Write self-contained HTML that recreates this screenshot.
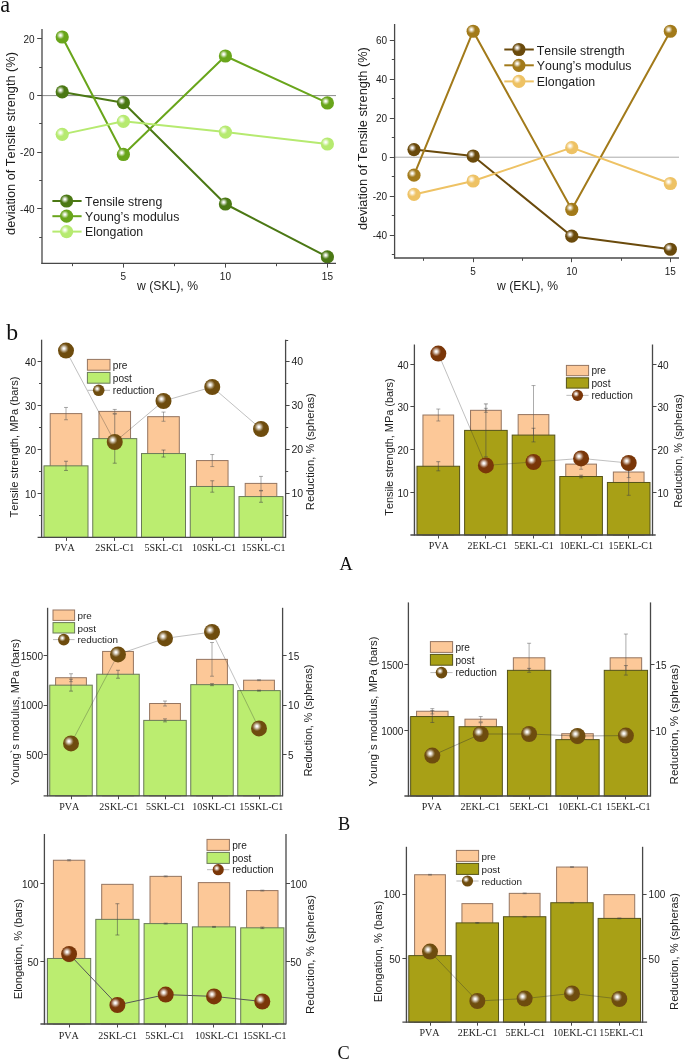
<!DOCTYPE html>
<html><head><meta charset="utf-8"><style>
html,body{margin:0;padding:0;background:#fff;}
body{width:685px;height:1060px;overflow:hidden;}
svg{display:block;will-change:transform;}
text{font-kerning:none;}
</style></head><body><svg width="685" height="1060" viewBox="0 0 685 1060"><defs><radialGradient id="hl" cx="0.5" cy="0.5" r="0.5"><stop offset="0" stop-color="#fff" stop-opacity="1"/><stop offset="0.15" stop-color="#fff" stop-opacity="0.96"/><stop offset="0.45" stop-color="#fff" stop-opacity="0.62"/><stop offset="0.75" stop-color="#fff" stop-opacity="0.22"/><stop offset="1" stop-color="#fff" stop-opacity="0"/></radialGradient><radialGradient id="g0" cx="0.5" cy="0.5" r="0.5" fx="0.5" fy="0.5"><stop offset="0" stop-color="#4b7814"/><stop offset="0.8" stop-color="#4b7814"/><stop offset="1" stop-color="#4b7814"/></radialGradient><radialGradient id="g1" cx="0.5" cy="0.5" r="0.5" fx="0.5" fy="0.5"><stop offset="0" stop-color="#69a51b"/><stop offset="0.8" stop-color="#69a51b"/><stop offset="1" stop-color="#69a51b"/></radialGradient><radialGradient id="g2" cx="0.5" cy="0.5" r="0.5" fx="0.5" fy="0.5"><stop offset="0" stop-color="#b6ea70"/><stop offset="0.8" stop-color="#b6ea70"/><stop offset="1" stop-color="#b6ea70"/></radialGradient><radialGradient id="g3" cx="0.5" cy="0.5" r="0.5" fx="0.5" fy="0.5"><stop offset="0" stop-color="#6a4a0c"/><stop offset="0.8" stop-color="#6a4a0c"/><stop offset="1" stop-color="#6a4a0c"/></radialGradient><radialGradient id="g4" cx="0.5" cy="0.5" r="0.5" fx="0.5" fy="0.5"><stop offset="0" stop-color="#a27a1a"/><stop offset="0.8" stop-color="#a27a1a"/><stop offset="1" stop-color="#a27a1a"/></radialGradient><radialGradient id="g5" cx="0.5" cy="0.5" r="0.5" fx="0.5" fy="0.5"><stop offset="0" stop-color="#eec264"/><stop offset="0.8" stop-color="#eec264"/><stop offset="1" stop-color="#eec264"/></radialGradient><radialGradient id="g6" cx="0.5" cy="0.5" r="0.5" fx="0.5" fy="0.5"><stop offset="0" stop-color="#6e4c0e"/><stop offset="0.8" stop-color="#6e4c0e"/><stop offset="1" stop-color="#6e4c0e"/></radialGradient><radialGradient id="g7" cx="0.5" cy="0.5" r="0.5" fx="0.5" fy="0.5"><stop offset="0" stop-color="#7a3608"/><stop offset="0.8" stop-color="#7a3608"/><stop offset="1" stop-color="#7a3608"/></radialGradient></defs><text x="0.30" y="12.00" font-family='"Liberation Serif", serif' font-size="22.2" fill="#111" text-anchor="start" >a</text><text x="6.20" y="339.70" font-family='"Liberation Serif", serif' font-size="23.8" fill="#111" text-anchor="start" >b</text><text x="339.50" y="569.70" font-family='"Liberation Serif", serif' font-size="18.3" fill="#111" text-anchor="start" >A</text><text x="338.00" y="829.90" font-family='"Liberation Serif", serif' font-size="18.3" fill="#111" text-anchor="start" >B</text><text x="337.60" y="1059.10" font-family='"Liberation Serif", serif' font-size="18.3" fill="#111" text-anchor="start" >C</text><line x1="42.00" y1="95.60" x2="336.00" y2="95.60" stroke="#8a8a8a" stroke-width="1.0" /><polyline points="62.20,91.92 123.40,102.67 225.40,203.99 327.40,256.91" fill="none" stroke="#4b7814" stroke-width="2.0" stroke-linejoin="round" /><polyline points="62.20,37.02 123.40,154.46 225.40,55.98 327.40,102.96" fill="none" stroke="#69a51b" stroke-width="2.0" stroke-linejoin="round" /><polyline points="62.20,134.37 123.40,121.35 225.40,132.11 327.40,143.99" fill="none" stroke="#b6ea70" stroke-width="2.0" stroke-linejoin="round" /><circle cx="62.20" cy="91.92" r="6.60" fill="url(#g0)"/><circle cx="60.48" cy="90.20" r="4.09" fill="url(#hl)"/><circle cx="123.40" cy="102.67" r="6.60" fill="url(#g0)"/><circle cx="121.68" cy="100.96" r="4.09" fill="url(#hl)"/><circle cx="225.40" cy="203.99" r="6.60" fill="url(#g0)"/><circle cx="223.68" cy="202.27" r="4.09" fill="url(#hl)"/><circle cx="327.40" cy="256.91" r="6.60" fill="url(#g0)"/><circle cx="325.68" cy="255.19" r="4.09" fill="url(#hl)"/><circle cx="62.20" cy="37.02" r="6.60" fill="url(#g1)"/><circle cx="60.48" cy="35.30" r="4.09" fill="url(#hl)"/><circle cx="123.40" cy="154.46" r="6.60" fill="url(#g1)"/><circle cx="121.68" cy="152.75" r="4.09" fill="url(#hl)"/><circle cx="225.40" cy="55.98" r="6.60" fill="url(#g1)"/><circle cx="223.68" cy="54.26" r="4.09" fill="url(#hl)"/><circle cx="327.40" cy="102.96" r="6.60" fill="url(#g1)"/><circle cx="325.68" cy="101.24" r="4.09" fill="url(#hl)"/><circle cx="62.20" cy="134.37" r="6.60" fill="url(#g2)"/><circle cx="60.48" cy="132.65" r="4.09" fill="url(#hl)"/><circle cx="123.40" cy="121.35" r="6.60" fill="url(#g2)"/><circle cx="121.68" cy="119.64" r="4.09" fill="url(#hl)"/><circle cx="225.40" cy="132.11" r="6.60" fill="url(#g2)"/><circle cx="223.68" cy="130.39" r="4.09" fill="url(#hl)"/><circle cx="327.40" cy="143.99" r="6.60" fill="url(#g2)"/><circle cx="325.68" cy="142.28" r="4.09" fill="url(#hl)"/><line x1="42.00" y1="29.00" x2="42.00" y2="264.00" stroke="#484848" stroke-width="1.3" /><line x1="41.40" y1="263.40" x2="336.00" y2="263.40" stroke="#484848" stroke-width="1.3" /><line x1="37.20" y1="38.50" x2="42.00" y2="38.50" stroke="#484848" stroke-width="1.0" /><text x="34.50" y="43.10" font-family='"Liberation Sans", sans-serif' font-size="10" fill="#1c1c1c" text-anchor="end" >20</text><line x1="37.20" y1="95.50" x2="42.00" y2="95.50" stroke="#484848" stroke-width="1.0" /><text x="34.50" y="99.70" font-family='"Liberation Sans", sans-serif' font-size="10" fill="#1c1c1c" text-anchor="end" >0</text><line x1="37.20" y1="152.50" x2="42.00" y2="152.50" stroke="#484848" stroke-width="1.0" /><text x="34.50" y="156.30" font-family='"Liberation Sans", sans-serif' font-size="10" fill="#1c1c1c" text-anchor="end" >-20</text><line x1="37.20" y1="208.50" x2="42.00" y2="208.50" stroke="#484848" stroke-width="1.0" /><text x="34.50" y="212.90" font-family='"Liberation Sans", sans-serif' font-size="10" fill="#1c1c1c" text-anchor="end" >-40</text><line x1="39.20" y1="67.50" x2="42.00" y2="67.50" stroke="#484848" stroke-width="1.0" /><line x1="39.20" y1="123.50" x2="42.00" y2="123.50" stroke="#484848" stroke-width="1.0" /><line x1="39.20" y1="180.50" x2="42.00" y2="180.50" stroke="#484848" stroke-width="1.0" /><line x1="39.20" y1="237.50" x2="42.00" y2="237.50" stroke="#484848" stroke-width="1.0" /><line x1="123.50" y1="263.40" x2="123.50" y2="267.60" stroke="#484848" stroke-width="1.0" /><text x="123.40" y="280.00" font-family='"Liberation Sans", sans-serif' font-size="10" fill="#1c1c1c" text-anchor="middle" >5</text><line x1="225.50" y1="263.40" x2="225.50" y2="267.60" stroke="#484848" stroke-width="1.0" /><text x="225.40" y="280.00" font-family='"Liberation Sans", sans-serif' font-size="10" fill="#1c1c1c" text-anchor="middle" >10</text><line x1="327.50" y1="263.40" x2="327.50" y2="267.60" stroke="#484848" stroke-width="1.0" /><text x="327.40" y="280.00" font-family='"Liberation Sans", sans-serif' font-size="10" fill="#1c1c1c" text-anchor="middle" >15</text><line x1="72.50" y1="263.40" x2="72.50" y2="266.20" stroke="#484848" stroke-width="1.0" /><line x1="174.50" y1="263.40" x2="174.50" y2="266.20" stroke="#484848" stroke-width="1.0" /><line x1="276.50" y1="263.40" x2="276.50" y2="266.20" stroke="#484848" stroke-width="1.0" /><text x="167.50" y="290.00" font-family='"Liberation Sans", sans-serif' font-size="12.2" fill="#1c1c1c" text-anchor="middle" >w (SKL), %</text><text x="14.50" y="143.50" font-family='"Liberation Sans", sans-serif' font-size="12.75" fill="#1c1c1c" text-anchor="middle" transform="rotate(-90 14.50 143.50)" >deviation of Tensile strength (%)</text><line x1="52.40" y1="201.00" x2="81.60" y2="201.00" stroke="#4b7814" stroke-width="2.0" /><circle cx="66.60" cy="201.00" r="6.60" fill="url(#g0)"/><circle cx="64.88" cy="199.28" r="4.09" fill="url(#hl)"/><text x="85.00" y="205.80" font-family='"Liberation Sans", sans-serif' font-size="12.3" fill="#1c1c1c" text-anchor="start" >Tensile streng</text><line x1="52.40" y1="216.20" x2="81.60" y2="216.20" stroke="#69a51b" stroke-width="2.0" /><circle cx="66.60" cy="216.20" r="6.60" fill="url(#g1)"/><circle cx="64.88" cy="214.48" r="4.09" fill="url(#hl)"/><text x="85.00" y="221.00" font-family='"Liberation Sans", sans-serif' font-size="12.3" fill="#1c1c1c" text-anchor="start" >Young’s modulus</text><line x1="52.40" y1="231.60" x2="81.60" y2="231.60" stroke="#b6ea70" stroke-width="2.0" /><circle cx="66.60" cy="231.60" r="6.60" fill="url(#g2)"/><circle cx="64.88" cy="229.88" r="4.09" fill="url(#hl)"/><text x="85.00" y="236.40" font-family='"Liberation Sans", sans-serif' font-size="12.3" fill="#1c1c1c" text-anchor="start" >Elongation</text><line x1="394.60" y1="157.20" x2="679.00" y2="157.20" stroke="#aaaaaa" stroke-width="1.0" /><polyline points="413.99,149.59 473.15,156.03 571.75,236.17 670.35,249.24" fill="none" stroke="#6a4a0c" stroke-width="2.0" stroke-linejoin="round" /><polyline points="413.99,175.14 473.15,31.23 571.75,209.46 670.35,31.23" fill="none" stroke="#a27a1a" stroke-width="2.0" stroke-linejoin="round" /><polyline points="413.99,194.44 473.15,180.99 571.75,147.64 670.35,183.52" fill="none" stroke="#eec264" stroke-width="2.0" stroke-linejoin="round" /><circle cx="413.99" cy="149.59" r="6.60" fill="url(#g3)"/><circle cx="412.27" cy="147.88" r="4.09" fill="url(#hl)"/><circle cx="473.15" cy="156.03" r="6.60" fill="url(#g3)"/><circle cx="471.43" cy="154.31" r="4.09" fill="url(#hl)"/><circle cx="571.75" cy="236.17" r="6.60" fill="url(#g3)"/><circle cx="570.03" cy="234.46" r="4.09" fill="url(#hl)"/><circle cx="670.35" cy="249.24" r="6.60" fill="url(#g3)"/><circle cx="668.63" cy="247.52" r="4.09" fill="url(#hl)"/><circle cx="413.99" cy="175.14" r="6.60" fill="url(#g4)"/><circle cx="412.27" cy="173.42" r="4.09" fill="url(#hl)"/><circle cx="473.15" cy="31.23" r="6.60" fill="url(#g4)"/><circle cx="471.43" cy="29.51" r="4.09" fill="url(#hl)"/><circle cx="571.75" cy="209.46" r="6.60" fill="url(#g4)"/><circle cx="570.03" cy="207.74" r="4.09" fill="url(#hl)"/><circle cx="670.35" cy="31.23" r="6.60" fill="url(#g4)"/><circle cx="668.63" cy="29.51" r="4.09" fill="url(#hl)"/><circle cx="413.99" cy="194.44" r="6.60" fill="url(#g5)"/><circle cx="412.27" cy="192.73" r="4.09" fill="url(#hl)"/><circle cx="473.15" cy="180.99" r="6.60" fill="url(#g5)"/><circle cx="471.43" cy="179.27" r="4.09" fill="url(#hl)"/><circle cx="571.75" cy="147.64" r="6.60" fill="url(#g5)"/><circle cx="570.03" cy="145.93" r="4.09" fill="url(#hl)"/><circle cx="670.35" cy="183.52" r="6.60" fill="url(#g5)"/><circle cx="668.63" cy="181.81" r="4.09" fill="url(#hl)"/><line x1="394.60" y1="24.00" x2="394.60" y2="258.60" stroke="#484848" stroke-width="1.3" /><line x1="394.00" y1="258.00" x2="679.00" y2="258.00" stroke="#484848" stroke-width="1.3" /><line x1="389.80" y1="40.50" x2="394.60" y2="40.50" stroke="#484848" stroke-width="1.0" /><text x="387.10" y="44.30" font-family='"Liberation Sans", sans-serif' font-size="10" fill="#1c1c1c" text-anchor="end" >60</text><line x1="389.80" y1="79.50" x2="394.60" y2="79.50" stroke="#484848" stroke-width="1.0" /><text x="387.10" y="83.30" font-family='"Liberation Sans", sans-serif' font-size="10" fill="#1c1c1c" text-anchor="end" >40</text><line x1="389.80" y1="118.50" x2="394.60" y2="118.50" stroke="#484848" stroke-width="1.0" /><text x="387.10" y="122.30" font-family='"Liberation Sans", sans-serif' font-size="10" fill="#1c1c1c" text-anchor="end" >20</text><line x1="389.80" y1="157.50" x2="394.60" y2="157.50" stroke="#484848" stroke-width="1.0" /><text x="387.10" y="161.30" font-family='"Liberation Sans", sans-serif' font-size="10" fill="#1c1c1c" text-anchor="end" >0</text><line x1="389.80" y1="196.50" x2="394.60" y2="196.50" stroke="#484848" stroke-width="1.0" /><text x="387.10" y="200.30" font-family='"Liberation Sans", sans-serif' font-size="10" fill="#1c1c1c" text-anchor="end" >-20</text><line x1="389.80" y1="235.50" x2="394.60" y2="235.50" stroke="#484848" stroke-width="1.0" /><text x="387.10" y="239.30" font-family='"Liberation Sans", sans-serif' font-size="10" fill="#1c1c1c" text-anchor="end" >-40</text><line x1="391.80" y1="59.50" x2="394.60" y2="59.50" stroke="#484848" stroke-width="1.0" /><line x1="391.80" y1="98.50" x2="394.60" y2="98.50" stroke="#484848" stroke-width="1.0" /><line x1="391.80" y1="137.50" x2="394.60" y2="137.50" stroke="#484848" stroke-width="1.0" /><line x1="391.80" y1="176.50" x2="394.60" y2="176.50" stroke="#484848" stroke-width="1.0" /><line x1="391.80" y1="215.50" x2="394.60" y2="215.50" stroke="#484848" stroke-width="1.0" /><line x1="391.80" y1="254.50" x2="394.60" y2="254.50" stroke="#484848" stroke-width="1.0" /><line x1="473.50" y1="258.00" x2="473.50" y2="262.20" stroke="#484848" stroke-width="1.0" /><text x="473.15" y="274.60" font-family='"Liberation Sans", sans-serif' font-size="10" fill="#1c1c1c" text-anchor="middle" >5</text><line x1="571.50" y1="258.00" x2="571.50" y2="262.20" stroke="#484848" stroke-width="1.0" /><text x="571.75" y="274.60" font-family='"Liberation Sans", sans-serif' font-size="10" fill="#1c1c1c" text-anchor="middle" >10</text><line x1="670.50" y1="258.00" x2="670.50" y2="262.20" stroke="#484848" stroke-width="1.0" /><text x="670.35" y="274.60" font-family='"Liberation Sans", sans-serif' font-size="10" fill="#1c1c1c" text-anchor="middle" >15</text><line x1="423.50" y1="258.00" x2="423.50" y2="260.80" stroke="#484848" stroke-width="1.0" /><line x1="522.50" y1="258.00" x2="522.50" y2="260.80" stroke="#484848" stroke-width="1.0" /><line x1="621.50" y1="258.00" x2="621.50" y2="260.80" stroke="#484848" stroke-width="1.0" /><text x="527.50" y="290.00" font-family='"Liberation Sans", sans-serif' font-size="12.2" fill="#1c1c1c" text-anchor="middle" >w (EKL), %</text><text x="367.50" y="138.60" font-family='"Liberation Sans", sans-serif' font-size="12.75" fill="#1c1c1c" text-anchor="middle" transform="rotate(-90 367.50 138.60)" >deviation of Tensile strength (%)</text><line x1="504.30" y1="49.50" x2="533.80" y2="49.50" stroke="#6a4a0c" stroke-width="2.0" /><circle cx="518.90" cy="49.50" r="6.60" fill="url(#g3)"/><circle cx="517.18" cy="47.78" r="4.09" fill="url(#hl)"/><text x="536.80" y="54.50" font-family='"Liberation Sans", sans-serif' font-size="12.35" fill="#1c1c1c" text-anchor="start" >Tensile strength</text><line x1="504.30" y1="65.30" x2="533.80" y2="65.30" stroke="#a27a1a" stroke-width="2.0" /><circle cx="518.90" cy="65.30" r="6.60" fill="url(#g4)"/><circle cx="517.18" cy="63.58" r="4.09" fill="url(#hl)"/><text x="536.80" y="70.30" font-family='"Liberation Sans", sans-serif' font-size="12.35" fill="#1c1c1c" text-anchor="start" >Young’s modulus</text><line x1="504.30" y1="81.40" x2="533.80" y2="81.40" stroke="#eec264" stroke-width="2.0" /><circle cx="518.90" cy="81.40" r="6.60" fill="url(#g5)"/><circle cx="517.18" cy="79.68" r="4.09" fill="url(#hl)"/><text x="536.80" y="86.40" font-family='"Liberation Sans", sans-serif' font-size="12.35" fill="#1c1c1c" text-anchor="start" >Elongation</text><rect x="50.20" y="413.60" width="31.60" height="123.80" fill="#fcc898" stroke="#957560" stroke-width="1.0"/><rect x="98.95" y="411.41" width="31.60" height="125.99" fill="#fcc898" stroke="#957560" stroke-width="1.0"/><rect x="147.70" y="416.67" width="31.60" height="120.73" fill="#fcc898" stroke="#957560" stroke-width="1.0"/><rect x="196.45" y="460.57" width="31.60" height="76.82" fill="#fcc898" stroke="#957560" stroke-width="1.0"/><rect x="245.20" y="483.40" width="31.60" height="54.00" fill="#fcc898" stroke="#957560" stroke-width="1.0"/><line x1="66.00" y1="407.46" x2="66.00" y2="419.75" stroke="#555" stroke-width="0.9" stroke-opacity="0.55"/><line x1="64.00" y1="407.46" x2="68.00" y2="407.46" stroke="#555" stroke-width="0.9" stroke-opacity="0.55"/><line x1="64.00" y1="419.75" x2="68.00" y2="419.75" stroke="#555" stroke-width="0.9" stroke-opacity="0.55"/><line x1="114.75" y1="409.43" x2="114.75" y2="413.38" stroke="#555" stroke-width="0.9" stroke-opacity="0.55"/><line x1="112.75" y1="409.43" x2="116.75" y2="409.43" stroke="#555" stroke-width="0.9" stroke-opacity="0.55"/><line x1="112.75" y1="413.38" x2="116.75" y2="413.38" stroke="#555" stroke-width="0.9" stroke-opacity="0.55"/><line x1="163.50" y1="412.07" x2="163.50" y2="421.28" stroke="#555" stroke-width="0.9" stroke-opacity="0.55"/><line x1="161.50" y1="412.07" x2="165.50" y2="412.07" stroke="#555" stroke-width="0.9" stroke-opacity="0.55"/><line x1="161.50" y1="421.28" x2="165.50" y2="421.28" stroke="#555" stroke-width="0.9" stroke-opacity="0.55"/><line x1="212.25" y1="454.56" x2="212.25" y2="466.59" stroke="#555" stroke-width="0.9" stroke-opacity="0.55"/><line x1="210.25" y1="454.56" x2="214.25" y2="454.56" stroke="#555" stroke-width="0.9" stroke-opacity="0.55"/><line x1="210.25" y1="466.59" x2="214.25" y2="466.59" stroke="#555" stroke-width="0.9" stroke-opacity="0.55"/><line x1="261.00" y1="476.38" x2="261.00" y2="490.43" stroke="#555" stroke-width="0.9" stroke-opacity="0.55"/><line x1="259.00" y1="476.38" x2="263.00" y2="476.38" stroke="#555" stroke-width="0.9" stroke-opacity="0.55"/><line x1="259.00" y1="490.43" x2="263.00" y2="490.43" stroke="#555" stroke-width="0.9" stroke-opacity="0.55"/><rect x="42.25" y="465.84" width="1.25" height="71.56" fill="#f2f0f6"/><rect x="44.00" y="465.84" width="44.00" height="71.56" fill="#bbed70" stroke="#6a7a58" stroke-width="1.0"/><rect x="92.75" y="438.62" width="44.00" height="98.77" fill="#bbed70" stroke="#6a7a58" stroke-width="1.0"/><rect x="141.50" y="453.55" width="44.00" height="83.85" fill="#bbed70" stroke="#6a7a58" stroke-width="1.0"/><rect x="190.25" y="486.48" width="44.00" height="50.92" fill="#bbed70" stroke="#6a7a58" stroke-width="1.0"/><rect x="239.00" y="496.57" width="44.00" height="40.83" fill="#bbed70" stroke="#6a7a58" stroke-width="1.0"/><line x1="66.00" y1="461.23" x2="66.00" y2="470.45" stroke="#444" stroke-width="0.9" stroke-opacity="0.6"/><line x1="64.00" y1="461.23" x2="68.00" y2="461.23" stroke="#444" stroke-width="0.9" stroke-opacity="0.6"/><line x1="64.00" y1="470.45" x2="68.00" y2="470.45" stroke="#444" stroke-width="0.9" stroke-opacity="0.6"/><line x1="114.75" y1="414.04" x2="114.75" y2="463.21" stroke="#444" stroke-width="0.9" stroke-opacity="0.6"/><line x1="112.75" y1="414.04" x2="116.75" y2="414.04" stroke="#444" stroke-width="0.9" stroke-opacity="0.6"/><line x1="112.75" y1="463.21" x2="116.75" y2="463.21" stroke="#444" stroke-width="0.9" stroke-opacity="0.6"/><line x1="163.50" y1="450.04" x2="163.50" y2="457.06" stroke="#444" stroke-width="0.9" stroke-opacity="0.6"/><line x1="161.50" y1="450.04" x2="165.50" y2="450.04" stroke="#444" stroke-width="0.9" stroke-opacity="0.6"/><line x1="161.50" y1="457.06" x2="165.50" y2="457.06" stroke="#444" stroke-width="0.9" stroke-opacity="0.6"/><line x1="212.25" y1="480.77" x2="212.25" y2="492.18" stroke="#444" stroke-width="0.9" stroke-opacity="0.6"/><line x1="210.25" y1="480.77" x2="214.25" y2="480.77" stroke="#444" stroke-width="0.9" stroke-opacity="0.6"/><line x1="210.25" y1="492.18" x2="214.25" y2="492.18" stroke="#444" stroke-width="0.9" stroke-opacity="0.6"/><line x1="261.00" y1="490.87" x2="261.00" y2="502.28" stroke="#444" stroke-width="0.9" stroke-opacity="0.6"/><line x1="259.00" y1="490.87" x2="263.00" y2="490.87" stroke="#444" stroke-width="0.9" stroke-opacity="0.6"/><line x1="259.00" y1="502.28" x2="263.00" y2="502.28" stroke="#444" stroke-width="0.9" stroke-opacity="0.6"/><polyline points="66.00,350.60 114.75,442.00 163.50,401.00 212.25,387.00 261.00,429.00" fill="none" stroke="#303030" stroke-width="0.8" stroke-linejoin="round" stroke-opacity="0.38"/><circle cx="66.00" cy="350.60" r="8.00" fill="url(#g6)"/><circle cx="63.92" cy="348.52" r="4.96" fill="url(#hl)"/><circle cx="114.75" cy="442.00" r="8.00" fill="url(#g6)"/><circle cx="112.67" cy="439.92" r="4.96" fill="url(#hl)"/><circle cx="163.50" cy="401.00" r="8.00" fill="url(#g6)"/><circle cx="161.42" cy="398.92" r="4.96" fill="url(#hl)"/><circle cx="212.25" cy="387.00" r="8.00" fill="url(#g6)"/><circle cx="210.17" cy="384.92" r="4.96" fill="url(#hl)"/><circle cx="261.00" cy="429.00" r="8.00" fill="url(#g6)"/><circle cx="258.92" cy="426.92" r="4.96" fill="url(#hl)"/><line x1="41.60" y1="339.70" x2="41.60" y2="538.00" stroke="#484848" stroke-width="1.3" /><line x1="285.60" y1="339.70" x2="285.60" y2="538.00" stroke="#484848" stroke-width="1.3" /><line x1="37.60" y1="537.40" x2="285.60" y2="537.40" stroke="#484848" stroke-width="1.3" /><line x1="37.60" y1="493.50" x2="41.60" y2="493.50" stroke="#484848" stroke-width="1.0" /><text x="36.00" y="497.80" font-family='"Liberation Sans", sans-serif' font-size="10" fill="#1c1c1c" text-anchor="end" >10</text><line x1="37.60" y1="449.50" x2="41.60" y2="449.50" stroke="#484848" stroke-width="1.0" /><text x="36.00" y="453.90" font-family='"Liberation Sans", sans-serif' font-size="10" fill="#1c1c1c" text-anchor="end" >20</text><line x1="37.60" y1="405.50" x2="41.60" y2="405.50" stroke="#484848" stroke-width="1.0" /><text x="36.00" y="410.00" font-family='"Liberation Sans", sans-serif' font-size="10" fill="#1c1c1c" text-anchor="end" >30</text><line x1="37.60" y1="361.50" x2="41.60" y2="361.50" stroke="#484848" stroke-width="1.0" /><text x="36.00" y="366.10" font-family='"Liberation Sans", sans-serif' font-size="10" fill="#1c1c1c" text-anchor="end" >40</text><line x1="39.00" y1="515.50" x2="41.60" y2="515.50" stroke="#484848" stroke-width="1.0" /><line x1="39.00" y1="471.50" x2="41.60" y2="471.50" stroke="#484848" stroke-width="1.0" /><line x1="39.00" y1="427.50" x2="41.60" y2="427.50" stroke="#484848" stroke-width="1.0" /><line x1="39.00" y1="383.50" x2="41.60" y2="383.50" stroke="#484848" stroke-width="1.0" /><line x1="285.60" y1="493.50" x2="289.60" y2="493.50" stroke="#484848" stroke-width="1.0" /><text x="291.40" y="496.90" font-family='"Liberation Sans", sans-serif' font-size="10.5" fill="#1c1c1c" text-anchor="start" >10</text><line x1="285.60" y1="449.50" x2="289.60" y2="449.50" stroke="#484848" stroke-width="1.0" /><text x="291.40" y="453.00" font-family='"Liberation Sans", sans-serif' font-size="10.5" fill="#1c1c1c" text-anchor="start" >20</text><line x1="285.60" y1="405.50" x2="289.60" y2="405.50" stroke="#484848" stroke-width="1.0" /><text x="291.40" y="409.10" font-family='"Liberation Sans", sans-serif' font-size="10.5" fill="#1c1c1c" text-anchor="start" >30</text><line x1="285.60" y1="361.50" x2="289.60" y2="361.50" stroke="#484848" stroke-width="1.0" /><text x="291.40" y="365.20" font-family='"Liberation Sans", sans-serif' font-size="10.5" fill="#1c1c1c" text-anchor="start" >40</text><line x1="285.60" y1="515.50" x2="288.20" y2="515.50" stroke="#484848" stroke-width="1.0" /><line x1="285.60" y1="471.50" x2="288.20" y2="471.50" stroke="#484848" stroke-width="1.0" /><line x1="285.60" y1="427.50" x2="288.20" y2="427.50" stroke="#484848" stroke-width="1.0" /><line x1="285.60" y1="383.50" x2="288.20" y2="383.50" stroke="#484848" stroke-width="1.0" /><line x1="285.60" y1="340.50" x2="288.20" y2="340.50" stroke="#484848" stroke-width="1.0" /><line x1="66.50" y1="537.40" x2="66.50" y2="540.90" stroke="#484848" stroke-width="1.0" /><line x1="114.50" y1="537.40" x2="114.50" y2="540.90" stroke="#484848" stroke-width="1.0" /><line x1="163.50" y1="537.40" x2="163.50" y2="540.90" stroke="#484848" stroke-width="1.0" /><line x1="212.50" y1="537.40" x2="212.50" y2="540.90" stroke="#484848" stroke-width="1.0" /><line x1="261.50" y1="537.40" x2="261.50" y2="540.90" stroke="#484848" stroke-width="1.0" /><text x="64.80" y="551.30" font-family='"Liberation Serif", serif' font-size="10" fill="#1c1c1c" text-anchor="middle" >PVA</text><text x="114.70" y="551.30" font-family='"Liberation Serif", serif' font-size="10" fill="#1c1c1c" text-anchor="middle" >2SKL-C1</text><text x="163.90" y="551.30" font-family='"Liberation Serif", serif' font-size="10" fill="#1c1c1c" text-anchor="middle" >5SKL-C1</text><text x="214.00" y="551.30" font-family='"Liberation Serif", serif' font-size="10" fill="#1c1c1c" text-anchor="middle" >10SKL-C1</text><text x="263.50" y="551.30" font-family='"Liberation Serif", serif' font-size="10" fill="#1c1c1c" text-anchor="middle" >15SKL-C1</text><text x="17.50" y="447.00" font-family='"Liberation Sans", sans-serif' font-size="11.2" fill="#1c1c1c" text-anchor="middle" transform="rotate(-90 17.50 447.00)" >Tensile strength, MPa (bars)</text><text x="314.50" y="451.70" font-family='"Liberation Sans", sans-serif' font-size="11.2" fill="#1c1c1c" text-anchor="middle" transform="rotate(-90 314.50 451.70)" >Reduction, % (spheras)</text><rect x="87.40" y="359.40" width="22.60" height="10.80" fill="#fcc898" stroke="#957560" stroke-width="1.0"/><text x="112.80" y="368.70" font-family='"Liberation Sans", sans-serif' font-size="10.1" fill="#1c1c1c" text-anchor="start" >pre</text><rect x="87.40" y="372.40" width="22.60" height="10.80" fill="#bbed70" stroke="#6a7a58" stroke-width="1.0"/><text x="112.80" y="381.70" font-family='"Liberation Sans", sans-serif' font-size="10.1" fill="#1c1c1c" text-anchor="start" >post</text><line x1="87.40" y1="390.30" x2="110.00" y2="390.30" stroke="#bbb" stroke-width="1.0" /><circle cx="98.70" cy="390.30" r="5.80" fill="url(#g6)"/><circle cx="97.19" cy="388.79" r="3.60" fill="url(#hl)"/><text x="112.80" y="393.90" font-family='"Liberation Sans", sans-serif' font-size="10.1" fill="#1c1c1c" text-anchor="start" >reduction</text><rect x="422.95" y="415.01" width="30.70" height="119.99" fill="#fcc898" stroke="#957560" stroke-width="1.0"/><rect x="470.55" y="410.32" width="30.70" height="124.68" fill="#fcc898" stroke="#957560" stroke-width="1.0"/><rect x="518.15" y="414.59" width="30.70" height="120.41" fill="#fcc898" stroke="#957560" stroke-width="1.0"/><rect x="565.75" y="464.12" width="30.70" height="70.88" fill="#fcc898" stroke="#957560" stroke-width="1.0"/><rect x="613.35" y="472.02" width="30.70" height="62.98" fill="#fcc898" stroke="#957560" stroke-width="1.0"/><line x1="438.30" y1="409.04" x2="438.30" y2="420.99" stroke="#555" stroke-width="0.9" stroke-opacity="0.55"/><line x1="436.30" y1="409.04" x2="440.30" y2="409.04" stroke="#555" stroke-width="0.9" stroke-opacity="0.55"/><line x1="436.30" y1="420.99" x2="440.30" y2="420.99" stroke="#555" stroke-width="0.9" stroke-opacity="0.55"/><line x1="485.90" y1="408.31" x2="485.90" y2="412.32" stroke="#555" stroke-width="0.9" stroke-opacity="0.55"/><line x1="483.90" y1="408.31" x2="487.90" y2="408.31" stroke="#555" stroke-width="0.9" stroke-opacity="0.55"/><line x1="483.90" y1="412.32" x2="487.90" y2="412.32" stroke="#555" stroke-width="0.9" stroke-opacity="0.55"/><line x1="533.50" y1="385.55" x2="533.50" y2="443.62" stroke="#555" stroke-width="0.9" stroke-opacity="0.55"/><line x1="531.50" y1="385.55" x2="535.50" y2="385.55" stroke="#555" stroke-width="0.9" stroke-opacity="0.55"/><line x1="531.50" y1="443.62" x2="535.50" y2="443.62" stroke="#555" stroke-width="0.9" stroke-opacity="0.55"/><line x1="581.10" y1="458.99" x2="581.10" y2="469.24" stroke="#555" stroke-width="0.9" stroke-opacity="0.55"/><line x1="579.10" y1="458.99" x2="583.10" y2="458.99" stroke="#555" stroke-width="0.9" stroke-opacity="0.55"/><line x1="579.10" y1="469.24" x2="583.10" y2="469.24" stroke="#555" stroke-width="0.9" stroke-opacity="0.55"/><line x1="628.70" y1="466.47" x2="628.70" y2="477.57" stroke="#555" stroke-width="0.9" stroke-opacity="0.55"/><line x1="626.70" y1="466.47" x2="630.70" y2="466.47" stroke="#555" stroke-width="0.9" stroke-opacity="0.55"/><line x1="626.70" y1="477.57" x2="630.70" y2="477.57" stroke="#555" stroke-width="0.9" stroke-opacity="0.55"/><rect x="415.05" y="466.25" width="1.45" height="68.75" fill="#e8e8ee"/><rect x="417.00" y="466.25" width="42.60" height="68.75" fill="#a8a016" stroke="#55531a" stroke-width="1.0"/><rect x="464.60" y="430.38" width="42.60" height="104.62" fill="#a8a016" stroke="#55531a" stroke-width="1.0"/><rect x="512.20" y="435.08" width="42.60" height="99.92" fill="#a8a016" stroke="#55531a" stroke-width="1.0"/><rect x="559.80" y="476.50" width="42.60" height="58.50" fill="#a8a016" stroke="#55531a" stroke-width="1.0"/><rect x="607.40" y="482.48" width="42.60" height="52.52" fill="#a8a016" stroke="#55531a" stroke-width="1.0"/><line x1="438.30" y1="461.68" x2="438.30" y2="470.82" stroke="#444" stroke-width="0.9" stroke-opacity="0.6"/><line x1="436.30" y1="461.68" x2="440.30" y2="461.68" stroke="#444" stroke-width="0.9" stroke-opacity="0.6"/><line x1="436.30" y1="470.82" x2="440.30" y2="470.82" stroke="#444" stroke-width="0.9" stroke-opacity="0.6"/><line x1="485.90" y1="403.91" x2="485.90" y2="456.86" stroke="#444" stroke-width="0.9" stroke-opacity="0.6"/><line x1="483.90" y1="403.91" x2="487.90" y2="403.91" stroke="#444" stroke-width="0.9" stroke-opacity="0.6"/><line x1="483.90" y1="456.86" x2="487.90" y2="456.86" stroke="#444" stroke-width="0.9" stroke-opacity="0.6"/><line x1="533.50" y1="428.25" x2="533.50" y2="441.91" stroke="#444" stroke-width="0.9" stroke-opacity="0.6"/><line x1="531.50" y1="428.25" x2="535.50" y2="428.25" stroke="#444" stroke-width="0.9" stroke-opacity="0.6"/><line x1="531.50" y1="441.91" x2="535.50" y2="441.91" stroke="#444" stroke-width="0.9" stroke-opacity="0.6"/><line x1="581.10" y1="475.22" x2="581.10" y2="477.78" stroke="#444" stroke-width="0.9" stroke-opacity="0.6"/><line x1="579.10" y1="475.22" x2="583.10" y2="475.22" stroke="#444" stroke-width="0.9" stroke-opacity="0.6"/><line x1="579.10" y1="477.78" x2="583.10" y2="477.78" stroke="#444" stroke-width="0.9" stroke-opacity="0.6"/><line x1="628.70" y1="469.67" x2="628.70" y2="495.29" stroke="#444" stroke-width="0.9" stroke-opacity="0.6"/><line x1="626.70" y1="469.67" x2="630.70" y2="469.67" stroke="#444" stroke-width="0.9" stroke-opacity="0.6"/><line x1="626.70" y1="495.29" x2="630.70" y2="495.29" stroke="#444" stroke-width="0.9" stroke-opacity="0.6"/><polyline points="438.30,353.60 485.90,465.40 533.50,462.00 581.10,458.40 628.70,463.00" fill="none" stroke="#303030" stroke-width="0.8" stroke-linejoin="round" stroke-opacity="0.38"/><circle cx="438.30" cy="353.60" r="8.00" fill="url(#g7)"/><circle cx="436.22" cy="351.52" r="4.96" fill="url(#hl)"/><circle cx="485.90" cy="465.40" r="8.00" fill="url(#g7)"/><circle cx="483.82" cy="463.32" r="4.96" fill="url(#hl)"/><circle cx="533.50" cy="462.00" r="8.00" fill="url(#g7)"/><circle cx="531.42" cy="459.92" r="4.96" fill="url(#hl)"/><circle cx="581.10" cy="458.40" r="8.00" fill="url(#g7)"/><circle cx="579.02" cy="456.32" r="4.96" fill="url(#hl)"/><circle cx="628.70" cy="463.00" r="8.00" fill="url(#g7)"/><circle cx="626.62" cy="460.92" r="4.96" fill="url(#hl)"/><line x1="414.40" y1="344.50" x2="414.40" y2="535.60" stroke="#484848" stroke-width="1.3" /><line x1="652.50" y1="344.50" x2="652.50" y2="535.60" stroke="#484848" stroke-width="1.3" /><line x1="410.40" y1="535.00" x2="655.70" y2="535.00" stroke="#484848" stroke-width="1.3" /><line x1="410.40" y1="492.50" x2="414.40" y2="492.50" stroke="#484848" stroke-width="1.0" /><text x="408.60" y="496.60" font-family='"Liberation Sans", sans-serif' font-size="10" fill="#1c1c1c" text-anchor="end" >10</text><line x1="410.40" y1="449.50" x2="414.40" y2="449.50" stroke="#484848" stroke-width="1.0" /><text x="408.60" y="453.90" font-family='"Liberation Sans", sans-serif' font-size="10" fill="#1c1c1c" text-anchor="end" >20</text><line x1="410.40" y1="406.50" x2="414.40" y2="406.50" stroke="#484848" stroke-width="1.0" /><text x="408.60" y="411.20" font-family='"Liberation Sans", sans-serif' font-size="10" fill="#1c1c1c" text-anchor="end" >30</text><line x1="410.40" y1="364.50" x2="414.40" y2="364.50" stroke="#484848" stroke-width="1.0" /><text x="408.60" y="368.50" font-family='"Liberation Sans", sans-serif' font-size="10" fill="#1c1c1c" text-anchor="end" >40</text><line x1="652.50" y1="492.50" x2="656.50" y2="492.50" stroke="#484848" stroke-width="1.0" /><text x="657.50" y="496.60" font-family='"Liberation Sans", sans-serif' font-size="10" fill="#1c1c1c" text-anchor="start" >10</text><line x1="652.50" y1="449.50" x2="656.50" y2="449.50" stroke="#484848" stroke-width="1.0" /><text x="657.50" y="453.90" font-family='"Liberation Sans", sans-serif' font-size="10" fill="#1c1c1c" text-anchor="start" >20</text><line x1="652.50" y1="406.50" x2="656.50" y2="406.50" stroke="#484848" stroke-width="1.0" /><text x="657.50" y="411.20" font-family='"Liberation Sans", sans-serif' font-size="10" fill="#1c1c1c" text-anchor="start" >30</text><line x1="652.50" y1="364.50" x2="656.50" y2="364.50" stroke="#484848" stroke-width="1.0" /><text x="657.50" y="368.50" font-family='"Liberation Sans", sans-serif' font-size="10" fill="#1c1c1c" text-anchor="start" >40</text><line x1="438.50" y1="535.00" x2="438.50" y2="538.50" stroke="#484848" stroke-width="1.0" /><line x1="485.50" y1="535.00" x2="485.50" y2="538.50" stroke="#484848" stroke-width="1.0" /><line x1="533.50" y1="535.00" x2="533.50" y2="538.50" stroke="#484848" stroke-width="1.0" /><line x1="581.50" y1="535.00" x2="581.50" y2="538.50" stroke="#484848" stroke-width="1.0" /><line x1="628.50" y1="535.00" x2="628.50" y2="538.50" stroke="#484848" stroke-width="1.0" /><text x="438.70" y="549.00" font-family='"Liberation Serif", serif' font-size="10" fill="#1c1c1c" text-anchor="middle" >PVA</text><text x="487.30" y="549.00" font-family='"Liberation Serif", serif' font-size="10" fill="#1c1c1c" text-anchor="middle" >2EKL-C1</text><text x="534.00" y="549.00" font-family='"Liberation Serif", serif' font-size="10" fill="#1c1c1c" text-anchor="middle" >5EKL-C1</text><text x="581.70" y="549.00" font-family='"Liberation Serif", serif' font-size="10" fill="#1c1c1c" text-anchor="middle" >10EKL-C1</text><text x="630.80" y="549.00" font-family='"Liberation Serif", serif' font-size="10" fill="#1c1c1c" text-anchor="middle" >15EKL-C1</text><text x="392.50" y="447.00" font-family='"Liberation Sans", sans-serif' font-size="10.9" fill="#1c1c1c" text-anchor="middle" transform="rotate(-90 392.50 447.00)" >Tensile strength, MPa (bars)</text><text x="681.80" y="450.90" font-family='"Liberation Sans", sans-serif' font-size="10.9" fill="#1c1c1c" text-anchor="middle" transform="rotate(-90 681.80 450.90)" >Reduction, % (spheras)</text><rect x="566.40" y="365.40" width="22.20" height="10.30" fill="#fcc898" stroke="#957560" stroke-width="1.0"/><text x="591.40" y="374.20" font-family='"Liberation Sans", sans-serif' font-size="10.1" fill="#1c1c1c" text-anchor="start" >pre</text><rect x="566.40" y="377.80" width="22.20" height="10.30" fill="#a8a016" stroke="#55531a" stroke-width="1.0"/><text x="591.40" y="386.60" font-family='"Liberation Sans", sans-serif' font-size="10.1" fill="#1c1c1c" text-anchor="start" >post</text><line x1="566.40" y1="395.35" x2="588.60" y2="395.35" stroke="#bbb" stroke-width="1.0" /><circle cx="577.50" cy="395.35" r="5.60" fill="url(#g7)"/><circle cx="576.04" cy="393.89" r="3.47" fill="url(#hl)"/><text x="591.40" y="398.95" font-family='"Liberation Sans", sans-serif' font-size="10.1" fill="#1c1c1c" text-anchor="start" >reduction</text><rect x="55.60" y="677.72" width="30.80" height="118.08" fill="#fcc898" stroke="#957560" stroke-width="1.0"/><rect x="102.60" y="651.43" width="30.80" height="144.37" fill="#fcc898" stroke="#957560" stroke-width="1.0"/><rect x="149.60" y="703.51" width="30.80" height="92.29" fill="#fcc898" stroke="#957560" stroke-width="1.0"/><rect x="196.60" y="659.37" width="30.80" height="136.43" fill="#fcc898" stroke="#957560" stroke-width="1.0"/><rect x="243.60" y="680.20" width="30.80" height="115.60" fill="#fcc898" stroke="#957560" stroke-width="1.0"/><line x1="71.00" y1="673.75" x2="71.00" y2="681.69" stroke="#555" stroke-width="0.9" stroke-opacity="0.55"/><line x1="69.00" y1="673.75" x2="73.00" y2="673.75" stroke="#555" stroke-width="0.9" stroke-opacity="0.55"/><line x1="69.00" y1="681.69" x2="73.00" y2="681.69" stroke="#555" stroke-width="0.9" stroke-opacity="0.55"/><line x1="118.00" y1="648.46" x2="118.00" y2="654.41" stroke="#555" stroke-width="0.9" stroke-opacity="0.55"/><line x1="116.00" y1="648.46" x2="120.00" y2="648.46" stroke="#555" stroke-width="0.9" stroke-opacity="0.55"/><line x1="116.00" y1="654.41" x2="120.00" y2="654.41" stroke="#555" stroke-width="0.9" stroke-opacity="0.55"/><line x1="165.00" y1="701.03" x2="165.00" y2="705.99" stroke="#555" stroke-width="0.9" stroke-opacity="0.55"/><line x1="163.00" y1="701.03" x2="167.00" y2="701.03" stroke="#555" stroke-width="0.9" stroke-opacity="0.55"/><line x1="163.00" y1="705.99" x2="167.00" y2="705.99" stroke="#555" stroke-width="0.9" stroke-opacity="0.55"/><line x1="212.00" y1="642.50" x2="212.00" y2="676.23" stroke="#555" stroke-width="0.9" stroke-opacity="0.55"/><line x1="210.00" y1="642.50" x2="214.00" y2="642.50" stroke="#555" stroke-width="0.9" stroke-opacity="0.55"/><line x1="210.00" y1="676.23" x2="214.00" y2="676.23" stroke="#555" stroke-width="0.9" stroke-opacity="0.55"/><line x1="259.00" y1="679.70" x2="259.00" y2="680.70" stroke="#555" stroke-width="0.9" stroke-opacity="0.55"/><line x1="257.00" y1="679.70" x2="261.00" y2="679.70" stroke="#555" stroke-width="0.9" stroke-opacity="0.55"/><line x1="257.00" y1="680.70" x2="261.00" y2="680.70" stroke="#555" stroke-width="0.9" stroke-opacity="0.55"/><rect x="48.25" y="685.16" width="1.00" height="110.64" fill="#e8e8ee"/><rect x="49.75" y="685.16" width="42.50" height="110.64" fill="#bbed70" stroke="#6a7a58" stroke-width="1.0"/><rect x="96.75" y="674.25" width="42.50" height="121.55" fill="#bbed70" stroke="#6a7a58" stroke-width="1.0"/><rect x="143.75" y="720.38" width="42.50" height="75.42" fill="#bbed70" stroke="#6a7a58" stroke-width="1.0"/><rect x="190.75" y="684.66" width="42.50" height="111.14" fill="#bbed70" stroke="#6a7a58" stroke-width="1.0"/><rect x="237.75" y="690.62" width="42.50" height="105.18" fill="#bbed70" stroke="#6a7a58" stroke-width="1.0"/><line x1="71.00" y1="679.21" x2="71.00" y2="691.11" stroke="#444" stroke-width="0.9" stroke-opacity="0.6"/><line x1="69.00" y1="679.21" x2="73.00" y2="679.21" stroke="#444" stroke-width="0.9" stroke-opacity="0.6"/><line x1="69.00" y1="691.11" x2="73.00" y2="691.11" stroke="#444" stroke-width="0.9" stroke-opacity="0.6"/><line x1="118.00" y1="670.28" x2="118.00" y2="678.22" stroke="#444" stroke-width="0.9" stroke-opacity="0.6"/><line x1="116.00" y1="670.28" x2="120.00" y2="670.28" stroke="#444" stroke-width="0.9" stroke-opacity="0.6"/><line x1="116.00" y1="678.22" x2="120.00" y2="678.22" stroke="#444" stroke-width="0.9" stroke-opacity="0.6"/><line x1="165.00" y1="718.89" x2="165.00" y2="721.86" stroke="#444" stroke-width="0.9" stroke-opacity="0.6"/><line x1="163.00" y1="718.89" x2="167.00" y2="718.89" stroke="#444" stroke-width="0.9" stroke-opacity="0.6"/><line x1="163.00" y1="721.86" x2="167.00" y2="721.86" stroke="#444" stroke-width="0.9" stroke-opacity="0.6"/><line x1="212.00" y1="683.67" x2="212.00" y2="685.66" stroke="#444" stroke-width="0.9" stroke-opacity="0.6"/><line x1="210.00" y1="683.67" x2="214.00" y2="683.67" stroke="#444" stroke-width="0.9" stroke-opacity="0.6"/><line x1="210.00" y1="685.66" x2="214.00" y2="685.66" stroke="#444" stroke-width="0.9" stroke-opacity="0.6"/><line x1="259.00" y1="690.12" x2="259.00" y2="691.11" stroke="#444" stroke-width="0.9" stroke-opacity="0.6"/><line x1="257.00" y1="690.12" x2="261.00" y2="690.12" stroke="#444" stroke-width="0.9" stroke-opacity="0.6"/><line x1="257.00" y1="691.11" x2="261.00" y2="691.11" stroke="#444" stroke-width="0.9" stroke-opacity="0.6"/><polyline points="71.00,743.40 118.00,654.40 165.00,638.40 212.00,632.00 259.00,728.40" fill="none" stroke="#303030" stroke-width="0.8" stroke-linejoin="round" stroke-opacity="0.38"/><circle cx="71.00" cy="743.40" r="8.00" fill="url(#g6)"/><circle cx="68.92" cy="741.32" r="4.96" fill="url(#hl)"/><circle cx="118.00" cy="654.40" r="8.00" fill="url(#g6)"/><circle cx="115.92" cy="652.32" r="4.96" fill="url(#hl)"/><circle cx="165.00" cy="638.40" r="8.00" fill="url(#g6)"/><circle cx="162.92" cy="636.32" r="4.96" fill="url(#hl)"/><circle cx="212.00" cy="632.00" r="8.00" fill="url(#g6)"/><circle cx="209.92" cy="629.92" r="4.96" fill="url(#hl)"/><circle cx="259.00" cy="728.40" r="8.00" fill="url(#g6)"/><circle cx="256.92" cy="726.32" r="4.96" fill="url(#hl)"/><line x1="47.60" y1="607.80" x2="47.60" y2="796.40" stroke="#484848" stroke-width="1.3" /><line x1="282.60" y1="607.80" x2="282.60" y2="796.40" stroke="#484848" stroke-width="1.3" /><line x1="43.60" y1="795.80" x2="282.60" y2="795.80" stroke="#484848" stroke-width="1.3" /><line x1="43.60" y1="754.50" x2="47.60" y2="754.50" stroke="#484848" stroke-width="1.0" /><text x="43.00" y="758.90" font-family='"Liberation Sans", sans-serif' font-size="10" fill="#1c1c1c" text-anchor="end" >500</text><line x1="43.60" y1="705.50" x2="47.60" y2="705.50" stroke="#484848" stroke-width="1.0" /><text x="43.00" y="709.30" font-family='"Liberation Sans", sans-serif' font-size="10" fill="#1c1c1c" text-anchor="end" >1000</text><line x1="43.60" y1="655.50" x2="47.60" y2="655.50" stroke="#484848" stroke-width="1.0" /><text x="43.00" y="659.70" font-family='"Liberation Sans", sans-serif' font-size="10" fill="#1c1c1c" text-anchor="end" >1500</text><line x1="282.60" y1="754.50" x2="286.60" y2="754.50" stroke="#484848" stroke-width="1.0" /><text x="288.10" y="758.90" font-family='"Liberation Sans", sans-serif' font-size="10" fill="#1c1c1c" text-anchor="start" >5</text><line x1="282.60" y1="705.50" x2="286.60" y2="705.50" stroke="#484848" stroke-width="1.0" /><text x="288.10" y="709.30" font-family='"Liberation Sans", sans-serif' font-size="10" fill="#1c1c1c" text-anchor="start" >10</text><line x1="282.60" y1="655.50" x2="286.60" y2="655.50" stroke="#484848" stroke-width="1.0" /><text x="288.10" y="659.70" font-family='"Liberation Sans", sans-serif' font-size="10" fill="#1c1c1c" text-anchor="start" >15</text><line x1="71.50" y1="795.80" x2="71.50" y2="799.30" stroke="#484848" stroke-width="1.0" /><line x1="118.50" y1="795.80" x2="118.50" y2="799.30" stroke="#484848" stroke-width="1.0" /><line x1="165.50" y1="795.80" x2="165.50" y2="799.30" stroke="#484848" stroke-width="1.0" /><line x1="212.50" y1="795.80" x2="212.50" y2="799.30" stroke="#484848" stroke-width="1.0" /><line x1="259.50" y1="795.80" x2="259.50" y2="799.30" stroke="#484848" stroke-width="1.0" /><text x="69.30" y="810.20" font-family='"Liberation Serif", serif' font-size="10" fill="#1c1c1c" text-anchor="middle" >PVA</text><text x="118.80" y="810.20" font-family='"Liberation Serif", serif' font-size="10" fill="#1c1c1c" text-anchor="middle" >2SKL-C1</text><text x="165.50" y="810.20" font-family='"Liberation Serif", serif' font-size="10" fill="#1c1c1c" text-anchor="middle" >5SKL-C1</text><text x="214.10" y="810.20" font-family='"Liberation Serif", serif' font-size="10" fill="#1c1c1c" text-anchor="middle" >10SKL-C1</text><text x="261.30" y="810.20" font-family='"Liberation Serif", serif' font-size="10" fill="#1c1c1c" text-anchor="middle" >15SKL-C1</text><text x="19.30" y="712.00" font-family='"Liberation Sans", sans-serif' font-size="11.0" fill="#1c1c1c" text-anchor="middle" transform="rotate(-90 19.30 712.00)" >Young`s modulus, MPa (bars)</text><text x="311.90" y="720.40" font-family='"Liberation Sans", sans-serif' font-size="10.7" fill="#1c1c1c" text-anchor="middle" transform="rotate(-90 311.90 720.40)" >Reduction, % (spheras)</text><rect x="53.00" y="610.00" width="21.60" height="10.40" fill="#fcc898" stroke="#957560" stroke-width="1.0"/><text x="77.40" y="618.90" font-family='"Liberation Sans", sans-serif' font-size="9.9" fill="#1c1c1c" text-anchor="start" >pre</text><rect x="53.00" y="622.60" width="21.60" height="10.40" fill="#bbed70" stroke="#6a7a58" stroke-width="1.0"/><text x="77.40" y="631.50" font-family='"Liberation Sans", sans-serif' font-size="9.9" fill="#1c1c1c" text-anchor="start" >post</text><line x1="53.00" y1="639.60" x2="74.60" y2="639.60" stroke="#bbb" stroke-width="1.0" /><circle cx="63.80" cy="639.60" r="5.80" fill="url(#g6)"/><circle cx="62.29" cy="638.09" r="3.60" fill="url(#hl)"/><text x="77.40" y="643.20" font-family='"Liberation Sans", sans-serif' font-size="9.9" fill="#1c1c1c" text-anchor="start" >reduction</text><rect x="416.55" y="711.26" width="31.50" height="84.74" fill="#fcc898" stroke="#957560" stroke-width="1.0"/><rect x="464.95" y="719.18" width="31.50" height="76.82" fill="#fcc898" stroke="#957560" stroke-width="1.0"/><rect x="513.35" y="657.80" width="31.50" height="138.20" fill="#fcc898" stroke="#957560" stroke-width="1.0"/><rect x="561.75" y="733.70" width="31.50" height="62.30" fill="#fcc898" stroke="#957560" stroke-width="1.0"/><rect x="610.15" y="657.80" width="31.50" height="138.20" fill="#fcc898" stroke="#957560" stroke-width="1.0"/><line x1="432.30" y1="708.62" x2="432.30" y2="713.90" stroke="#555" stroke-width="0.9" stroke-opacity="0.55"/><line x1="430.30" y1="708.62" x2="434.30" y2="708.62" stroke="#555" stroke-width="0.9" stroke-opacity="0.55"/><line x1="430.30" y1="713.90" x2="434.30" y2="713.90" stroke="#555" stroke-width="0.9" stroke-opacity="0.55"/><line x1="480.70" y1="716.54" x2="480.70" y2="721.82" stroke="#555" stroke-width="0.9" stroke-opacity="0.55"/><line x1="478.70" y1="716.54" x2="482.70" y2="716.54" stroke="#555" stroke-width="0.9" stroke-opacity="0.55"/><line x1="478.70" y1="721.82" x2="482.70" y2="721.82" stroke="#555" stroke-width="0.9" stroke-opacity="0.55"/><line x1="529.10" y1="643.28" x2="529.10" y2="672.32" stroke="#555" stroke-width="0.9" stroke-opacity="0.55"/><line x1="527.10" y1="643.28" x2="531.10" y2="643.28" stroke="#555" stroke-width="0.9" stroke-opacity="0.55"/><line x1="527.10" y1="672.32" x2="531.10" y2="672.32" stroke="#555" stroke-width="0.9" stroke-opacity="0.55"/><line x1="577.50" y1="729.08" x2="577.50" y2="738.32" stroke="#555" stroke-width="0.9" stroke-opacity="0.55"/><line x1="575.50" y1="729.08" x2="579.50" y2="729.08" stroke="#555" stroke-width="0.9" stroke-opacity="0.55"/><line x1="575.50" y1="738.32" x2="579.50" y2="738.32" stroke="#555" stroke-width="0.9" stroke-opacity="0.55"/><line x1="625.90" y1="634.04" x2="625.90" y2="681.56" stroke="#555" stroke-width="0.9" stroke-opacity="0.55"/><line x1="623.90" y1="634.04" x2="627.90" y2="634.04" stroke="#555" stroke-width="0.9" stroke-opacity="0.55"/><line x1="623.90" y1="681.56" x2="627.90" y2="681.56" stroke="#555" stroke-width="0.9" stroke-opacity="0.55"/><rect x="409.05" y="716.54" width="1.10" height="79.46" fill="#e8e8ee"/><rect x="410.65" y="716.54" width="43.30" height="79.46" fill="#a8a016" stroke="#55531a" stroke-width="1.0"/><rect x="459.05" y="726.70" width="43.30" height="69.30" fill="#a8a016" stroke="#55531a" stroke-width="1.0"/><rect x="507.45" y="670.34" width="43.30" height="125.66" fill="#a8a016" stroke="#55531a" stroke-width="1.0"/><rect x="555.85" y="739.64" width="43.30" height="56.36" fill="#a8a016" stroke="#55531a" stroke-width="1.0"/><rect x="604.25" y="670.34" width="43.30" height="125.66" fill="#a8a016" stroke="#55531a" stroke-width="1.0"/><line x1="432.30" y1="710.60" x2="432.30" y2="722.48" stroke="#444" stroke-width="0.9" stroke-opacity="0.6"/><line x1="430.30" y1="710.60" x2="434.30" y2="710.60" stroke="#444" stroke-width="0.9" stroke-opacity="0.6"/><line x1="430.30" y1="722.48" x2="434.30" y2="722.48" stroke="#444" stroke-width="0.9" stroke-opacity="0.6"/><line x1="480.70" y1="722.74" x2="480.70" y2="730.66" stroke="#444" stroke-width="0.9" stroke-opacity="0.6"/><line x1="478.70" y1="722.74" x2="482.70" y2="722.74" stroke="#444" stroke-width="0.9" stroke-opacity="0.6"/><line x1="478.70" y1="730.66" x2="482.70" y2="730.66" stroke="#444" stroke-width="0.9" stroke-opacity="0.6"/><line x1="529.10" y1="668.36" x2="529.10" y2="672.32" stroke="#444" stroke-width="0.9" stroke-opacity="0.6"/><line x1="527.10" y1="668.36" x2="531.10" y2="668.36" stroke="#444" stroke-width="0.9" stroke-opacity="0.6"/><line x1="527.10" y1="672.32" x2="531.10" y2="672.32" stroke="#444" stroke-width="0.9" stroke-opacity="0.6"/><line x1="577.50" y1="735.68" x2="577.50" y2="743.60" stroke="#444" stroke-width="0.9" stroke-opacity="0.6"/><line x1="575.50" y1="735.68" x2="579.50" y2="735.68" stroke="#444" stroke-width="0.9" stroke-opacity="0.6"/><line x1="575.50" y1="743.60" x2="579.50" y2="743.60" stroke="#444" stroke-width="0.9" stroke-opacity="0.6"/><line x1="625.90" y1="665.59" x2="625.90" y2="675.09" stroke="#444" stroke-width="0.9" stroke-opacity="0.6"/><line x1="623.90" y1="665.59" x2="627.90" y2="665.59" stroke="#444" stroke-width="0.9" stroke-opacity="0.6"/><line x1="623.90" y1="675.09" x2="627.90" y2="675.09" stroke="#444" stroke-width="0.9" stroke-opacity="0.6"/><polyline points="432.30,755.60 480.70,734.00 529.10,734.00 577.50,736.00 625.90,735.60" fill="none" stroke="#303030" stroke-width="0.8" stroke-linejoin="round" stroke-opacity="0.5"/><circle cx="432.30" cy="755.60" r="8.00" fill="url(#g6)"/><circle cx="430.22" cy="753.52" r="4.96" fill="url(#hl)"/><circle cx="480.70" cy="734.00" r="8.00" fill="url(#g6)"/><circle cx="478.62" cy="731.92" r="4.96" fill="url(#hl)"/><circle cx="529.10" cy="734.00" r="8.00" fill="url(#g6)"/><circle cx="527.02" cy="731.92" r="4.96" fill="url(#hl)"/><circle cx="577.50" cy="736.00" r="8.00" fill="url(#g6)"/><circle cx="575.42" cy="733.92" r="4.96" fill="url(#hl)"/><circle cx="625.90" cy="735.60" r="8.00" fill="url(#g6)"/><circle cx="623.82" cy="733.52" r="4.96" fill="url(#hl)"/><line x1="408.40" y1="602.40" x2="408.40" y2="796.60" stroke="#484848" stroke-width="1.3" /><line x1="650.50" y1="602.40" x2="650.50" y2="796.60" stroke="#484848" stroke-width="1.3" /><line x1="404.40" y1="796.00" x2="650.50" y2="796.00" stroke="#484848" stroke-width="1.3" /><line x1="404.40" y1="730.50" x2="408.40" y2="730.50" stroke="#484848" stroke-width="1.0" /><text x="403.40" y="734.70" font-family='"Liberation Sans", sans-serif' font-size="10" fill="#1c1c1c" text-anchor="end" >1000</text><line x1="404.40" y1="664.50" x2="408.40" y2="664.50" stroke="#484848" stroke-width="1.0" /><text x="403.40" y="668.70" font-family='"Liberation Sans", sans-serif' font-size="10" fill="#1c1c1c" text-anchor="end" >1500</text><line x1="650.50" y1="730.50" x2="654.50" y2="730.50" stroke="#484848" stroke-width="1.0" /><text x="655.50" y="734.70" font-family='"Liberation Sans", sans-serif' font-size="10" fill="#1c1c1c" text-anchor="start" >10</text><line x1="650.50" y1="664.50" x2="654.50" y2="664.50" stroke="#484848" stroke-width="1.0" /><text x="655.50" y="668.70" font-family='"Liberation Sans", sans-serif' font-size="10" fill="#1c1c1c" text-anchor="start" >15</text><line x1="432.50" y1="796.00" x2="432.50" y2="799.50" stroke="#484848" stroke-width="1.0" /><line x1="480.50" y1="796.00" x2="480.50" y2="799.50" stroke="#484848" stroke-width="1.0" /><line x1="529.50" y1="796.00" x2="529.50" y2="799.50" stroke="#484848" stroke-width="1.0" /><line x1="577.50" y1="796.00" x2="577.50" y2="799.50" stroke="#484848" stroke-width="1.0" /><line x1="625.50" y1="796.00" x2="625.50" y2="799.50" stroke="#484848" stroke-width="1.0" /><text x="431.70" y="810.00" font-family='"Liberation Serif", serif' font-size="10" fill="#1c1c1c" text-anchor="middle" >PVA</text><text x="480.20" y="810.00" font-family='"Liberation Serif", serif' font-size="10" fill="#1c1c1c" text-anchor="middle" >2EKL-C1</text><text x="529.40" y="810.00" font-family='"Liberation Serif", serif' font-size="10" fill="#1c1c1c" text-anchor="middle" >5EKL-C1</text><text x="580.20" y="810.00" font-family='"Liberation Serif", serif' font-size="10" fill="#1c1c1c" text-anchor="middle" >10EKL-C1</text><text x="628.30" y="810.00" font-family='"Liberation Serif", serif' font-size="10" fill="#1c1c1c" text-anchor="middle" >15EKL-C1</text><text x="377.20" y="711.50" font-family='"Liberation Sans", sans-serif' font-size="11.3" fill="#1c1c1c" text-anchor="middle" transform="rotate(-90 377.20 711.50)" >Young`s modulus, MPa (bars)</text><text x="677.80" y="724.30" font-family='"Liberation Sans", sans-serif' font-size="11.5" fill="#1c1c1c" text-anchor="middle" transform="rotate(-90 677.80 724.30)" >Reduction, % (spheras)</text><rect x="430.40" y="641.60" width="22.20" height="10.80" fill="#fcc898" stroke="#957560" stroke-width="1.0"/><text x="455.40" y="650.90" font-family='"Liberation Sans", sans-serif' font-size="10.1" fill="#1c1c1c" text-anchor="start" >pre</text><rect x="430.40" y="654.40" width="22.20" height="10.80" fill="#a8a016" stroke="#55531a" stroke-width="1.0"/><text x="455.40" y="663.70" font-family='"Liberation Sans", sans-serif' font-size="10.1" fill="#1c1c1c" text-anchor="start" >post</text><line x1="430.40" y1="672.60" x2="452.60" y2="672.60" stroke="#bbb" stroke-width="1.0" /><circle cx="441.50" cy="672.60" r="5.80" fill="url(#g6)"/><circle cx="439.99" cy="671.09" r="3.60" fill="url(#hl)"/><text x="455.40" y="676.20" font-family='"Liberation Sans", sans-serif' font-size="10.1" fill="#1c1c1c" text-anchor="start" >reduction</text><rect x="53.40" y="860.25" width="31.40" height="163.75" fill="#fcc898" stroke="#957560" stroke-width="1.0"/><rect x="101.70" y="884.34" width="31.40" height="139.66" fill="#fcc898" stroke="#957560" stroke-width="1.0"/><rect x="150.00" y="876.36" width="31.40" height="147.64" fill="#fcc898" stroke="#957560" stroke-width="1.0"/><rect x="198.30" y="882.62" width="31.40" height="141.38" fill="#fcc898" stroke="#957560" stroke-width="1.0"/><rect x="246.60" y="890.59" width="31.40" height="133.41" fill="#fcc898" stroke="#957560" stroke-width="1.0"/><line x1="69.10" y1="859.63" x2="69.10" y2="860.88" stroke="#555" stroke-width="0.9" stroke-opacity="0.55"/><line x1="67.10" y1="859.63" x2="71.10" y2="859.63" stroke="#555" stroke-width="0.9" stroke-opacity="0.55"/><line x1="67.10" y1="860.88" x2="71.10" y2="860.88" stroke="#555" stroke-width="0.9" stroke-opacity="0.55"/><line x1="165.70" y1="875.89" x2="165.70" y2="876.83" stroke="#555" stroke-width="0.9" stroke-opacity="0.55"/><line x1="163.70" y1="875.89" x2="167.70" y2="875.89" stroke="#555" stroke-width="0.9" stroke-opacity="0.55"/><line x1="163.70" y1="876.83" x2="167.70" y2="876.83" stroke="#555" stroke-width="0.9" stroke-opacity="0.55"/><line x1="262.30" y1="890.13" x2="262.30" y2="891.06" stroke="#555" stroke-width="0.9" stroke-opacity="0.55"/><line x1="260.30" y1="890.13" x2="264.30" y2="890.13" stroke="#555" stroke-width="0.9" stroke-opacity="0.55"/><line x1="260.30" y1="891.06" x2="264.30" y2="891.06" stroke="#555" stroke-width="0.9" stroke-opacity="0.55"/><rect x="45.05" y="958.47" width="1.95" height="65.53" fill="#e8e8ee"/><rect x="47.50" y="958.47" width="43.20" height="65.53" fill="#bbed70" stroke="#6a7a58" stroke-width="1.0"/><rect x="95.80" y="919.37" width="43.20" height="104.63" fill="#bbed70" stroke="#6a7a58" stroke-width="1.0"/><rect x="144.10" y="923.59" width="43.20" height="100.41" fill="#bbed70" stroke="#6a7a58" stroke-width="1.0"/><rect x="192.40" y="926.88" width="43.20" height="97.12" fill="#bbed70" stroke="#6a7a58" stroke-width="1.0"/><rect x="240.70" y="927.82" width="43.20" height="96.18" fill="#bbed70" stroke="#6a7a58" stroke-width="1.0"/><line x1="69.10" y1="955.34" x2="69.10" y2="961.60" stroke="#444" stroke-width="0.9" stroke-opacity="0.6"/><line x1="67.10" y1="955.34" x2="71.10" y2="955.34" stroke="#444" stroke-width="0.9" stroke-opacity="0.6"/><line x1="67.10" y1="961.60" x2="71.10" y2="961.60" stroke="#444" stroke-width="0.9" stroke-opacity="0.6"/><line x1="117.40" y1="903.73" x2="117.40" y2="935.01" stroke="#444" stroke-width="0.9" stroke-opacity="0.6"/><line x1="115.40" y1="903.73" x2="119.40" y2="903.73" stroke="#444" stroke-width="0.9" stroke-opacity="0.6"/><line x1="115.40" y1="935.01" x2="119.40" y2="935.01" stroke="#444" stroke-width="0.9" stroke-opacity="0.6"/><line x1="165.70" y1="923.13" x2="165.70" y2="924.06" stroke="#444" stroke-width="0.9" stroke-opacity="0.6"/><line x1="163.70" y1="923.13" x2="167.70" y2="923.13" stroke="#444" stroke-width="0.9" stroke-opacity="0.6"/><line x1="163.70" y1="924.06" x2="167.70" y2="924.06" stroke="#444" stroke-width="0.9" stroke-opacity="0.6"/><line x1="214.00" y1="926.41" x2="214.00" y2="927.35" stroke="#444" stroke-width="0.9" stroke-opacity="0.6"/><line x1="212.00" y1="926.41" x2="216.00" y2="926.41" stroke="#444" stroke-width="0.9" stroke-opacity="0.6"/><line x1="212.00" y1="927.35" x2="216.00" y2="927.35" stroke="#444" stroke-width="0.9" stroke-opacity="0.6"/><line x1="262.30" y1="927.04" x2="262.30" y2="928.60" stroke="#444" stroke-width="0.9" stroke-opacity="0.6"/><line x1="260.30" y1="927.04" x2="264.30" y2="927.04" stroke="#444" stroke-width="0.9" stroke-opacity="0.6"/><line x1="260.30" y1="928.60" x2="264.30" y2="928.60" stroke="#444" stroke-width="0.9" stroke-opacity="0.6"/><polyline points="69.10,954.00 117.40,1005.00 165.70,994.60 214.00,996.40 262.30,1001.50" fill="none" stroke="#555" stroke-width="1.0" stroke-linejoin="round" stroke-opacity="1"/><circle cx="69.10" cy="954.00" r="8.00" fill="url(#g7)"/><circle cx="67.02" cy="951.92" r="4.96" fill="url(#hl)"/><circle cx="117.40" cy="1005.00" r="8.00" fill="url(#g7)"/><circle cx="115.32" cy="1002.92" r="4.96" fill="url(#hl)"/><circle cx="165.70" cy="994.60" r="8.00" fill="url(#g7)"/><circle cx="163.62" cy="992.52" r="4.96" fill="url(#hl)"/><circle cx="214.00" cy="996.40" r="8.00" fill="url(#g7)"/><circle cx="211.92" cy="994.32" r="4.96" fill="url(#hl)"/><circle cx="262.30" cy="1001.50" r="8.00" fill="url(#g7)"/><circle cx="260.22" cy="999.42" r="4.96" fill="url(#hl)"/><line x1="44.40" y1="834.00" x2="44.40" y2="1024.60" stroke="#484848" stroke-width="1.3" /><line x1="286.00" y1="834.00" x2="286.00" y2="1024.60" stroke="#484848" stroke-width="1.3" /><line x1="40.40" y1="1024.00" x2="286.00" y2="1024.00" stroke="#484848" stroke-width="1.3" /><line x1="40.40" y1="961.50" x2="44.40" y2="961.50" stroke="#484848" stroke-width="1.0" /><text x="38.70" y="965.90" font-family='"Liberation Sans", sans-serif' font-size="10" fill="#1c1c1c" text-anchor="end" >50</text><line x1="40.40" y1="883.50" x2="44.40" y2="883.50" stroke="#484848" stroke-width="1.0" /><text x="38.70" y="887.70" font-family='"Liberation Sans", sans-serif' font-size="10" fill="#1c1c1c" text-anchor="end" >100</text><line x1="286.00" y1="961.50" x2="290.00" y2="961.50" stroke="#484848" stroke-width="1.0" /><text x="290.30" y="965.90" font-family='"Liberation Sans", sans-serif' font-size="10" fill="#1c1c1c" text-anchor="start" >50</text><line x1="286.00" y1="883.50" x2="290.00" y2="883.50" stroke="#484848" stroke-width="1.0" /><text x="290.30" y="887.70" font-family='"Liberation Sans", sans-serif' font-size="10" fill="#1c1c1c" text-anchor="start" >100</text><line x1="69.50" y1="1024.00" x2="69.50" y2="1027.50" stroke="#484848" stroke-width="1.0" /><line x1="117.50" y1="1024.00" x2="117.50" y2="1027.50" stroke="#484848" stroke-width="1.0" /><line x1="165.50" y1="1024.00" x2="165.50" y2="1027.50" stroke="#484848" stroke-width="1.0" /><line x1="213.50" y1="1024.00" x2="213.50" y2="1027.50" stroke="#484848" stroke-width="1.0" /><line x1="262.50" y1="1024.00" x2="262.50" y2="1027.50" stroke="#484848" stroke-width="1.0" /><text x="68.80" y="1038.60" font-family='"Liberation Serif", serif' font-size="10" fill="#1c1c1c" text-anchor="middle" >PVA</text><text x="117.60" y="1038.60" font-family='"Liberation Serif", serif' font-size="10" fill="#1c1c1c" text-anchor="middle" >2SKL-C1</text><text x="164.80" y="1038.60" font-family='"Liberation Serif", serif' font-size="10" fill="#1c1c1c" text-anchor="middle" >5SKL-C1</text><text x="216.90" y="1038.60" font-family='"Liberation Serif", serif' font-size="10" fill="#1c1c1c" text-anchor="middle" >10SKL-C1</text><text x="264.60" y="1038.60" font-family='"Liberation Serif", serif' font-size="10" fill="#1c1c1c" text-anchor="middle" >15SKL-C1</text><text x="22.00" y="949.00" font-family='"Liberation Sans", sans-serif' font-size="11.1" fill="#1c1c1c" text-anchor="middle" transform="rotate(-90 22.00 949.00)" >Elongation, % (bars)</text><text x="314.20" y="954.40" font-family='"Liberation Sans", sans-serif' font-size="11.4" fill="#1c1c1c" text-anchor="middle" transform="rotate(-90 314.20 954.40)" >Reduction, % (spheras)</text><rect x="207.00" y="839.40" width="22.40" height="11.00" fill="#fcc898" stroke="#957560" stroke-width="1.0"/><text x="232.20" y="848.90" font-family='"Liberation Sans", sans-serif' font-size="10.1" fill="#1c1c1c" text-anchor="start" >pre</text><rect x="207.00" y="852.40" width="22.40" height="11.00" fill="#bbed70" stroke="#6a7a58" stroke-width="1.0"/><text x="232.20" y="861.90" font-family='"Liberation Sans", sans-serif' font-size="10.1" fill="#1c1c1c" text-anchor="start" >post</text><line x1="207.00" y1="869.70" x2="229.40" y2="869.70" stroke="#bbb" stroke-width="1.0" /><circle cx="218.20" cy="869.70" r="5.60" fill="url(#g7)"/><circle cx="216.74" cy="868.24" r="3.47" fill="url(#hl)"/><text x="232.20" y="873.30" font-family='"Liberation Sans", sans-serif' font-size="10.1" fill="#1c1c1c" text-anchor="start" >reduction</text><rect x="414.60" y="874.74" width="30.80" height="147.46" fill="#fcc898" stroke="#957560" stroke-width="1.0"/><rect x="461.93" y="903.63" width="30.80" height="118.57" fill="#fcc898" stroke="#957560" stroke-width="1.0"/><rect x="509.26" y="893.36" width="30.80" height="128.84" fill="#fcc898" stroke="#957560" stroke-width="1.0"/><rect x="556.59" y="867.04" width="30.80" height="155.16" fill="#fcc898" stroke="#957560" stroke-width="1.0"/><rect x="603.92" y="894.64" width="30.80" height="127.56" fill="#fcc898" stroke="#957560" stroke-width="1.0"/><line x1="430.00" y1="874.35" x2="430.00" y2="875.13" stroke="#555" stroke-width="0.9" stroke-opacity="0.55"/><line x1="428.00" y1="874.35" x2="432.00" y2="874.35" stroke="#555" stroke-width="0.9" stroke-opacity="0.55"/><line x1="428.00" y1="875.13" x2="432.00" y2="875.13" stroke="#555" stroke-width="0.9" stroke-opacity="0.55"/><line x1="524.66" y1="892.97" x2="524.66" y2="893.74" stroke="#555" stroke-width="0.9" stroke-opacity="0.55"/><line x1="522.66" y1="892.97" x2="526.66" y2="892.97" stroke="#555" stroke-width="0.9" stroke-opacity="0.55"/><line x1="522.66" y1="893.74" x2="526.66" y2="893.74" stroke="#555" stroke-width="0.9" stroke-opacity="0.55"/><line x1="571.99" y1="866.65" x2="571.99" y2="867.42" stroke="#555" stroke-width="0.9" stroke-opacity="0.55"/><line x1="569.99" y1="866.65" x2="573.99" y2="866.65" stroke="#555" stroke-width="0.9" stroke-opacity="0.55"/><line x1="569.99" y1="867.42" x2="573.99" y2="867.42" stroke="#555" stroke-width="0.9" stroke-opacity="0.55"/><rect x="407.05" y="955.63" width="1.25" height="66.57" fill="#e8e8ee"/><rect x="408.80" y="955.63" width="42.40" height="66.57" fill="#a8a016" stroke="#55531a" stroke-width="1.0"/><rect x="456.13" y="922.89" width="42.40" height="99.31" fill="#a8a016" stroke="#55531a" stroke-width="1.0"/><rect x="503.46" y="916.73" width="42.40" height="105.47" fill="#a8a016" stroke="#55531a" stroke-width="1.0"/><rect x="550.79" y="902.73" width="42.40" height="119.47" fill="#a8a016" stroke="#55531a" stroke-width="1.0"/><rect x="598.12" y="918.40" width="42.40" height="103.80" fill="#a8a016" stroke="#55531a" stroke-width="1.0"/><line x1="477.33" y1="922.50" x2="477.33" y2="923.28" stroke="#444" stroke-width="0.9" stroke-opacity="0.6"/><line x1="475.33" y1="922.50" x2="479.33" y2="922.50" stroke="#444" stroke-width="0.9" stroke-opacity="0.6"/><line x1="475.33" y1="923.28" x2="479.33" y2="923.28" stroke="#444" stroke-width="0.9" stroke-opacity="0.6"/><line x1="524.66" y1="916.34" x2="524.66" y2="917.11" stroke="#444" stroke-width="0.9" stroke-opacity="0.6"/><line x1="522.66" y1="916.34" x2="526.66" y2="916.34" stroke="#444" stroke-width="0.9" stroke-opacity="0.6"/><line x1="522.66" y1="917.11" x2="526.66" y2="917.11" stroke="#444" stroke-width="0.9" stroke-opacity="0.6"/><line x1="571.99" y1="902.35" x2="571.99" y2="903.12" stroke="#444" stroke-width="0.9" stroke-opacity="0.6"/><line x1="569.99" y1="902.35" x2="573.99" y2="902.35" stroke="#444" stroke-width="0.9" stroke-opacity="0.6"/><line x1="569.99" y1="903.12" x2="573.99" y2="903.12" stroke="#444" stroke-width="0.9" stroke-opacity="0.6"/><line x1="619.32" y1="918.01" x2="619.32" y2="918.78" stroke="#444" stroke-width="0.9" stroke-opacity="0.6"/><line x1="617.32" y1="918.01" x2="621.32" y2="918.01" stroke="#444" stroke-width="0.9" stroke-opacity="0.6"/><line x1="617.32" y1="918.78" x2="621.32" y2="918.78" stroke="#444" stroke-width="0.9" stroke-opacity="0.6"/><polyline points="430.00,951.60 477.33,1001.00 524.66,998.60 571.99,993.40 619.32,999.00" fill="none" stroke="#303030" stroke-width="0.8" stroke-linejoin="round" stroke-opacity="0.45"/><circle cx="430.00" cy="951.60" r="8.00" fill="url(#g6)"/><circle cx="427.92" cy="949.52" r="4.96" fill="url(#hl)"/><circle cx="477.33" cy="1001.00" r="8.00" fill="url(#g6)"/><circle cx="475.25" cy="998.92" r="4.96" fill="url(#hl)"/><circle cx="524.66" cy="998.60" r="8.00" fill="url(#g6)"/><circle cx="522.58" cy="996.52" r="4.96" fill="url(#hl)"/><circle cx="571.99" cy="993.40" r="8.00" fill="url(#g6)"/><circle cx="569.91" cy="991.32" r="4.96" fill="url(#hl)"/><circle cx="619.32" cy="999.00" r="8.00" fill="url(#g6)"/><circle cx="617.24" cy="996.92" r="4.96" fill="url(#hl)"/><line x1="406.40" y1="846.80" x2="406.40" y2="1022.80" stroke="#484848" stroke-width="1.3" /><line x1="642.60" y1="846.80" x2="642.60" y2="1022.80" stroke="#484848" stroke-width="1.3" /><line x1="402.40" y1="1022.20" x2="647.10" y2="1022.20" stroke="#484848" stroke-width="1.3" /><line x1="402.40" y1="958.50" x2="406.40" y2="958.50" stroke="#484848" stroke-width="1.0" /><text x="400.40" y="962.50" font-family='"Liberation Sans", sans-serif' font-size="10" fill="#1c1c1c" text-anchor="end" >50</text><line x1="402.40" y1="894.50" x2="406.40" y2="894.50" stroke="#484848" stroke-width="1.0" /><text x="400.40" y="898.30" font-family='"Liberation Sans", sans-serif' font-size="10" fill="#1c1c1c" text-anchor="end" >100</text><line x1="642.60" y1="958.50" x2="646.60" y2="958.50" stroke="#484848" stroke-width="1.0" /><text x="648.60" y="962.50" font-family='"Liberation Sans", sans-serif' font-size="10" fill="#1c1c1c" text-anchor="start" >50</text><line x1="642.60" y1="894.50" x2="646.60" y2="894.50" stroke="#484848" stroke-width="1.0" /><text x="648.60" y="898.30" font-family='"Liberation Sans", sans-serif' font-size="10" fill="#1c1c1c" text-anchor="start" >100</text><line x1="430.50" y1="1022.20" x2="430.50" y2="1025.70" stroke="#484848" stroke-width="1.0" /><line x1="477.50" y1="1022.20" x2="477.50" y2="1025.70" stroke="#484848" stroke-width="1.0" /><line x1="524.50" y1="1022.20" x2="524.50" y2="1025.70" stroke="#484848" stroke-width="1.0" /><line x1="571.50" y1="1022.20" x2="571.50" y2="1025.70" stroke="#484848" stroke-width="1.0" /><line x1="619.50" y1="1022.20" x2="619.50" y2="1025.70" stroke="#484848" stroke-width="1.0" /><text x="429.40" y="1036.40" font-family='"Liberation Serif", serif' font-size="10" fill="#1c1c1c" text-anchor="middle" >PVA</text><text x="477.50" y="1036.40" font-family='"Liberation Serif", serif' font-size="10" fill="#1c1c1c" text-anchor="middle" >2EKL-C1</text><text x="525.20" y="1036.40" font-family='"Liberation Serif", serif' font-size="10" fill="#1c1c1c" text-anchor="middle" >5EKL-C1</text><text x="575.30" y="1036.40" font-family='"Liberation Serif", serif' font-size="10" fill="#1c1c1c" text-anchor="middle" >10EKL-C1</text><text x="621.50" y="1036.40" font-family='"Liberation Serif", serif' font-size="10" fill="#1c1c1c" text-anchor="middle" >15EKL-C1</text><text x="382.00" y="951.50" font-family='"Liberation Sans", sans-serif' font-size="11.2" fill="#1c1c1c" text-anchor="middle" transform="rotate(-90 382.00 951.50)" >Elongation, % (bars)</text><text x="677.50" y="951.50" font-family='"Liberation Sans", sans-serif' font-size="11.2" fill="#1c1c1c" text-anchor="middle" transform="rotate(-90 677.50 951.50)" >Reduction, % (spheras)</text><rect x="456.40" y="850.40" width="22.20" height="11.00" fill="#fcc898" stroke="#957560" stroke-width="1.0"/><text x="481.40" y="859.90" font-family='"Liberation Sans", sans-serif' font-size="9.9" fill="#1c1c1c" text-anchor="start" >pre</text><rect x="456.40" y="863.40" width="22.20" height="11.00" fill="#a8a016" stroke="#55531a" stroke-width="1.0"/><text x="481.40" y="872.90" font-family='"Liberation Sans", sans-serif' font-size="9.9" fill="#1c1c1c" text-anchor="start" >post</text><line x1="456.40" y1="881.00" x2="478.60" y2="881.00" stroke="#bbb" stroke-width="1.0" /><circle cx="467.50" cy="881.00" r="5.60" fill="url(#g6)"/><circle cx="466.04" cy="879.54" r="3.47" fill="url(#hl)"/><text x="481.40" y="884.60" font-family='"Liberation Sans", sans-serif' font-size="9.9" fill="#1c1c1c" text-anchor="start" >reduction</text></svg></body></html>
